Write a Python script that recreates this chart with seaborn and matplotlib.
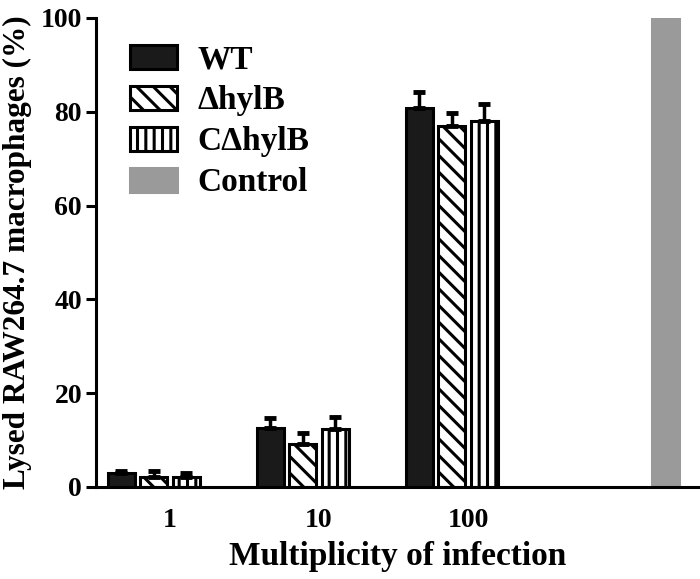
import matplotlib
matplotlib.use("Agg")
import matplotlib.pyplot as plt
import numpy as np
import pandas as pd
import seaborn as sns

# MOI groups and strains
moi_labels = ["1", "10", "100"]
strains = ["WT", "ΔhylB", "CΔhylB", "Control"]

wt_mean = [2.9, 12.6, 80.8]
wt_err = [0.5, 2.1, 3.5]
dhylb_mean = [2.2, 9.1, 76.9]
dhylb_err = [1.2, 2.5, 2.9]
cdhylb_mean = [2.1, 12.4, 78.1]
cdhylb_err = [0.9, 2.5, 3.5]
control_mean = [100.0]
control_err = [0.0]

colors = {"WT": "#1a1a1a", "ΔhylB": "white", "CΔhylB": "white", "Control": "#9a9a9a"}
hatches = {"WT": "", "ΔhylB": "\\\\", "CΔhylB": "||", "Control": ""}

rows = []
for s, means, errs in [("WT", wt_mean, wt_err), ("ΔhylB", dhylb_mean, dhylb_err),
                       ("CΔhylB", cdhylb_mean, cdhylb_err)]:
    for m, v, e in zip(moi_labels, means, errs):
        rows.append({"moi": m, "strain": s, "value": v, "err": e})
rows.append({"moi": "Control", "strain": "Control", "value": control_mean[0], "err": control_err[0]})
df = pd.DataFrame(rows)

sns.set_style("ticks")
plt.rcParams["font.family"] = ["Liberation Serif", "DejaVu Serif"]
plt.rcParams["font.weight"] = "bold"
plt.rcParams["text.color"] = "black"
plt.rcParams["axes.labelcolor"] = "black"
plt.rcParams["xtick.color"] = "black"
plt.rcParams["ytick.color"] = "black"
plt.rcParams["axes.edgecolor"] = "black"
plt.rcParams["hatch.linewidth"] = 2.2
plt.rcParams["hatch.color"] = "black"

fig = plt.figure(figsize=(7, 5.79), dpi=100)
ax = fig.add_axes([0.137, 0.159, 0.863, 0.81])

sns.barplot(data=df, x="moi", y="value", hue="strain",
            order=moi_labels + ["Control"], hue_order=strains,
            palette=colors, width=0.87, gap=0.17, errorbar=None,
            edgecolor="black", linewidth=2.2, legend=False, ax=ax)

handles = []
for cont, s in zip(ax.containers, strains):
    sub = df[df["strain"] == s]
    xs, ys = [], []
    for patch in cont.patches:
        patch.set_hatch(hatches[s])
        if s == "Control":
            patch.set_edgecolor(colors[s])
        xs.append(patch.get_x() + patch.get_width() / 2)
        ys.append(patch.get_height())
    errs = sub["err"].to_numpy()
    if errs.max() > 0:
        ax.errorbar(xs, ys, yerr=[np.zeros_like(errs), errs], fmt="none",
                    ecolor="black", elinewidth=2.5, capsize=4.5, capthick=3.5, zorder=1)
    handles.append(cont.patches[0])

ax.legend(handles, strains, loc="upper left", bbox_to_anchor=(0.035, 0.972),
          frameon=False, fontsize=24, handlelength=1.4, handleheight=0.72,
          labelspacing=0.3, handletextpad=0.6, borderaxespad=0)

ax.set_xlim(-0.497, 3.557)
ax.set_ylim(0, 100)
ax.set_yticks([0, 20, 40, 60, 80, 100])
ax.set_xticks([0, 1, 2])
ax.set_xticklabels(moi_labels)
ax.tick_params(axis="x", length=0, labelsize=20, pad=15)
ax.tick_params(axis="y", length=7, width=2.2, labelsize=20, pad=3)
for lbl in ax.get_xticklabels() + ax.get_yticklabels():
    lbl.set_fontweight("bold")
ax.set_xlabel("Multiplicity of infection", fontsize=24, fontweight="bold", labelpad=6)
ax.set_ylabel("Lysed RAW264.7 macrophages (%)", fontsize=22.5, fontweight="bold", labelpad=6)
sns.despine(ax=ax)
ax.spines["left"].set_linewidth(2.2)
ax.spines["bottom"].set_linewidth(2.2)

fig.savefig("out.png", dpi=100)
